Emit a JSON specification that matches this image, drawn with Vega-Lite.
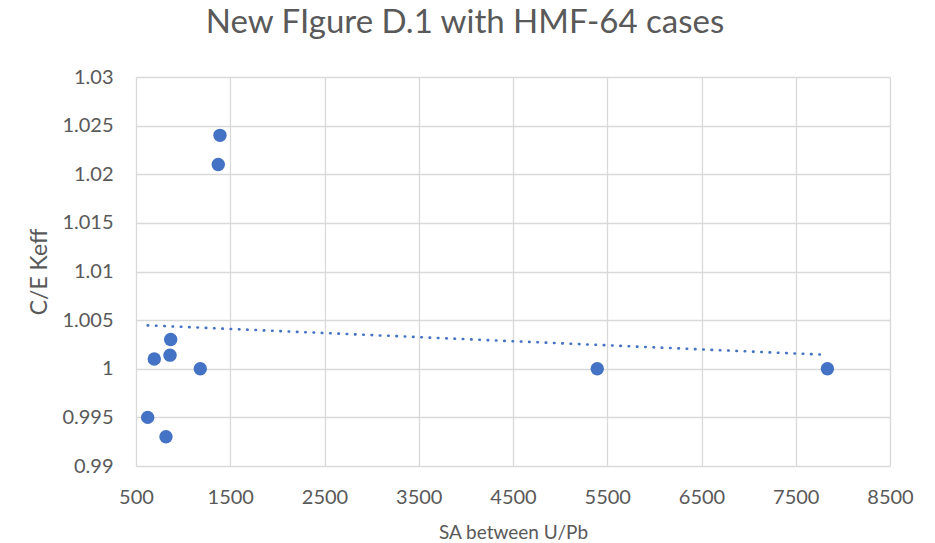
{
  "$schema": "https://vega.github.io/schema/vega-lite/v6.json",
  "width": 754,
  "height": 389,
  "autosize": {"type": "none"},
  "padding": {"left": 136, "top": 77, "right": 45, "bottom": 77},
  "background": "white",
  "title": {
    "text": "New FIgure D.1 with HMF-64 cases",
    "font": "Lato",
    "fontSize": 33,
    "fontWeight": "normal",
    "color": "#595959",
    "anchor": "middle",
    "dx": -48,
    "offset": 27
  },
  "config": {
    "view": {"stroke": null},
    "axis": {
      "labelFont": "Lato",
      "titleFont": "Lato",
      "labelColor": "#595959",
      "titleColor": "#595959",
      "titleFontWeight": "normal",
      "gridColor": "#d9d9d9",
      "gridWidth": 1.3,
      "domain": false,
      "ticks": false
    }
  },
  "data": {
    "values": [
      {"sa": 1391, "ce": 1.024},
      {"sa": 1373, "ce": 1.021},
      {"sa": 868, "ce": 1.003},
      {"sa": 861, "ce": 1.0014},
      {"sa": 694, "ce": 1.001},
      {"sa": 1182, "ce": 1.0},
      {"sa": 624, "ce": 0.995},
      {"sa": 818, "ce": 0.993},
      {"sa": 5394, "ce": 1.0},
      {"sa": 7836, "ce": 1.0}
    ]
  },
  "encoding": {
    "x": {
      "field": "sa",
      "type": "quantitative",
      "scale": {"domain": [500, 8500], "nice": false, "zero": false},
      "axis": {
        "title": "SA between U/Pb",
        "values": [500, 1500, 2500, 3500, 4500, 5500, 6500, 7500, 8500],
        "format": "d",
        "labelFontSize": 20,
        "labelPadding": 21,
        "titleFontSize": 19,
        "titlePadding": 16,
        "labelFlush": false
      }
    },
    "y": {
      "field": "ce",
      "type": "quantitative",
      "scale": {"domain": [0.99, 1.03], "nice": false, "zero": false},
      "axis": {
        "title": "C/E Keff",
        "values": [0.99, 0.995, 1.0, 1.005, 1.01, 1.015, 1.02, 1.025, 1.03],
        "format": ".3~f",
        "labelFontSize": 20,
        "labelPadding": 23,
        "titleFontSize": 23,
        "titlePadding": 10
      }
    }
  },
  "layer": [
    {
      "transform": [{"regression": "ce", "on": "sa"}],
      "mark": {"type": "line", "color": "#4472C4", "strokeWidth": 2.6, "strokeDash": [0.5, 7.8], "strokeCap": "round"}
    },
    {
      "mark": {"type": "circle", "color": "#4472C4", "size": 180, "opacity": 1}
    }
  ]
}
